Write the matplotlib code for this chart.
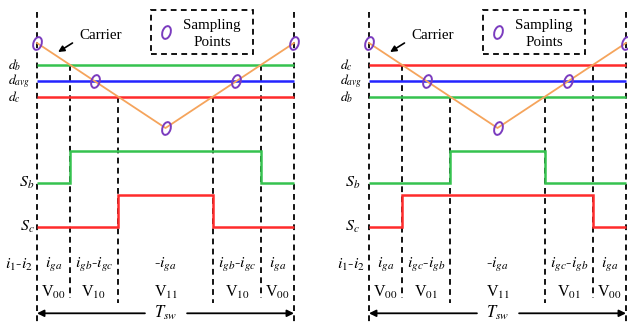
import numpy as np
import matplotlib
matplotlib.use("Agg")
import matplotlib.pyplot as plt
from matplotlib.path import Path
from matplotlib.transforms import Affine2D
from matplotlib.patches import Rectangle

plt.rcParams["font.family"] = ["Liberation Serif", "DejaVu Serif"]
plt.rcParams["mathtext.fontset"] = "stix"

# ---- data (time in units of Tsw, levels in units of carrier amplitude) ----
CARRIER_T = [0.0, 0.5, 1.0]
CARRIER_V = [1.0, 0.0, 1.0]

# duty levels, top to bottom, per panel
DUTY_LEFT = {"b": 0.74, "avg": 0.553, "c": 0.365}
DUTY_RIGHT = {"c": 0.74, "avg": 0.553, "b": 0.365}

# sampling points (time, carrier value)
SAMPLE_T = [0.0, 0.224, 0.5, 0.776, 1.0]
SAMPLE_V = [1.0, 0.553, 0.0, 0.553, 1.0]

# switching instants and the duty each one comes from
SWITCH_T = [0.128, 0.314, 0.686, 0.872]
SWITCH_FROM_LEFT = ["b", "c", "c", "b"]
SWITCH_FROM_RIGHT = ["c", "b", "b", "c"]

# switch states
SB_EDGES_LEFT = [0.0, 0.128, 0.872, 1.0]
SB_STATE_LEFT = [0, 1, 0]
SC_EDGES_LEFT = [0.0, 0.314, 0.686, 1.0]
SC_STATE_LEFT = [0, 1, 0]
SB_EDGES_RIGHT = [0.0, 0.314, 0.686, 1.0]
SB_STATE_RIGHT = [0, 1, 0]
SC_EDGES_RIGHT = [0.0, 0.128, 0.872, 1.0]
SC_STATE_RIGHT = [0, 1, 0]

SEG_CENTERS = [0.064, 0.221, 0.5, 0.779, 0.936]
CURRENT_LEFT = [r"$i_{ga}$", r"$i_{gb}$-$i_{gc}$", r"-$i_{ga}$", r"$i_{gb}$-$i_{gc}$", r"$i_{ga}$"]
VECTOR_LEFT = [r"V$_{00}$", r"V$_{10}$", r"V$_{11}$", r"V$_{10}$", r"V$_{00}$"]
CURRENT_RIGHT = [r"$i_{ga}$", r"$i_{gc}$-$i_{gb}$", r"-$i_{ga}$", r"$i_{gc}$-$i_{gb}$", r"$i_{ga}$"]
VECTOR_RIGHT = [r"V$_{00}$", r"V$_{01}$", r"V$_{11}$", r"V$_{01}$", r"V$_{00}$"]

# ---- styling / layout ----
GREEN = "#35c24f"
BLUE = "#2424ff"
RED = "#ff2b2b"
ORANGE = "#f5a45c"
PURPLE = "#7b3cbf"
COLORS = {"b": GREEN, "avg": BLUE, "c": RED}
DLABEL = {"b": r"$d_b$", "avg": r"$d_{avg}$", "c": r"$d_c$"}

W, H = 628, 323
PX_T = 257.0       # pixels per Tsw
PX_V = 85.0        # pixels per carrier unit
Y0_PIX = 128.0     # pixel row of carrier valley

SB_BASE, SC_BASE, PULSE_H = -0.65, -1.165, 0.38
ROW_I, ROW_V, ROW_T = -1.61, -1.93, -2.18
DASH_TOP = 1.365

marker_path = Path.unit_circle().transformed(Affine2D().scale(0.62, 1.0).rotate_deg(-18))

fig = plt.figure(figsize=(W / 100, H / 100), dpi=100)


def make_axes(px0, px1, origin_px):
    ax = fig.add_axes([px0 / W, 0, (px1 - px0) / W, 1])
    ax.set_xlim((px0 - origin_px) / PX_T, (px1 - origin_px) / PX_T)
    ax.set_ylim((Y0_PIX - H) / PX_V, Y0_PIX / PX_V)
    ax.axis("off")
    return ax


def draw_panel(ax, duty, switch_from, sb, sc, currents, vectors, sb_x, sc_x):
    dash = dict(color="black", lw=1.3, linestyle=(0, (3.2, 2.4)), clip_on=False)

    # outer dashed boundaries
    for t in (0.0, 1.0):
        ax.plot([t, t], [DASH_TOP, (Y0_PIX - H) / PX_V], **dash)
    # inner dashed lines at switching instants
    for t, k in zip(SWITCH_T, switch_from):
        bottom = -2.0 if k == list(duty)[0] else -2.06
        ax.plot([t, t], [duty[k], bottom], **dash)

    # duty levels
    for k, v in duty.items():
        ax.hlines(v, 0, 1, color=COLORS[k], lw=1.8, zorder=3)
        ax.text(-0.113, v, DLABEL[k], fontsize=9.8, ha="left", va="center")

    # carrier and sampling points
    ax.plot(CARRIER_T, CARRIER_V, color=ORANGE, lw=1.3, zorder=4, clip_on=False)
    ax.plot(SAMPLE_T, SAMPLE_V, linestyle="none", marker=marker_path, ms=9.5,
            mfc="none", mec=PURPLE, mew=1.4, zorder=5, clip_on=False)

    # switch states
    ax.stairs(np.array(sb[1]) * PULSE_H + SB_BASE, sb[0], baseline=None,
              color=GREEN, lw=1.8, zorder=3)
    ax.stairs(np.array(sc[1]) * PULSE_H + SC_BASE, sc[0], baseline=None,
              color=RED, lw=1.8, zorder=3)
    ax.text(sb_x, SB_BASE, r"$S_b$", fontsize=11.5, ha="right", va="center")
    ax.text(sc_x, SC_BASE, r"$S_c$", fontsize=11.5, ha="right", va="center")

    # current / vector rows
    ax.text(-0.015, ROW_I, r"$i_1$-$i_2$", fontsize=11.5, ha="right", va="center")
    for x, s in zip(SEG_CENTERS, currents):
        ax.text(x, ROW_I, s, fontsize=11.5, ha="center", va="center")
    for x, s in zip(SEG_CENTERS, vectors):
        ax.text(x, ROW_V, s, fontsize=11.5, ha="center", va="center")

    # Tsw arrow
    arrow = dict(arrowstyle="-|>", color="black", lw=1.3, mutation_scale=10,
                 shrinkA=0, shrinkB=0)
    ax.annotate("", xy=(0.0, ROW_T), xytext=(0.42, ROW_T), arrowprops=arrow)
    ax.annotate("", xy=(1.0, ROW_T), xytext=(0.584, ROW_T), arrowprops=arrow)
    ax.text(0.5, ROW_T, r"$T_{sw}$", fontsize=12, ha="center", va="center")

    # carrier label
    ax.text(0.249, 1.094, "Carrier", fontsize=10.8, ha="center", va="center")
    ax.annotate("", xy=(0.082, 0.894), xytext=(0.138, 1.0),
                arrowprops=dict(arrowstyle="-|>", color="black", lw=1.2,
                                mutation_scale=9, shrinkA=0, shrinkB=0))

    # legend box
    ax.add_patch(Rectangle((0.442, 0.871), 0.397, 0.517, fill=False,
                           ec="black", lw=1.3, linestyle=(0, (3.2, 2.4))))
    ax.plot([0.5], [1.129], linestyle="none", marker=marker_path, ms=9.5,
            mfc="none", mec=PURPLE, mew=1.4)
    ax.text(0.681, 1.21, "Sampling", fontsize=10.8, ha="center", va="center")
    ax.text(0.681, 1.0, "Points", fontsize=10.8, ha="center", va="center")


ax_l = make_axes(0, 316, 37)
draw_panel(ax_l, DUTY_LEFT, SWITCH_FROM_LEFT,
           (SB_EDGES_LEFT, SB_STATE_LEFT), (SC_EDGES_LEFT, SC_STATE_LEFT),
           CURRENT_LEFT, VECTOR_LEFT, -0.01, -0.01)

ax_r = make_axes(316, 628, 369)
draw_panel(ax_r, DUTY_RIGHT, SWITCH_FROM_RIGHT,
           (SB_EDGES_RIGHT, SB_STATE_RIGHT), (SC_EDGES_RIGHT, SC_STATE_RIGHT),
           CURRENT_RIGHT, VECTOR_RIGHT, -0.035, -0.035)

fig.savefig("out.png", dpi=100)
